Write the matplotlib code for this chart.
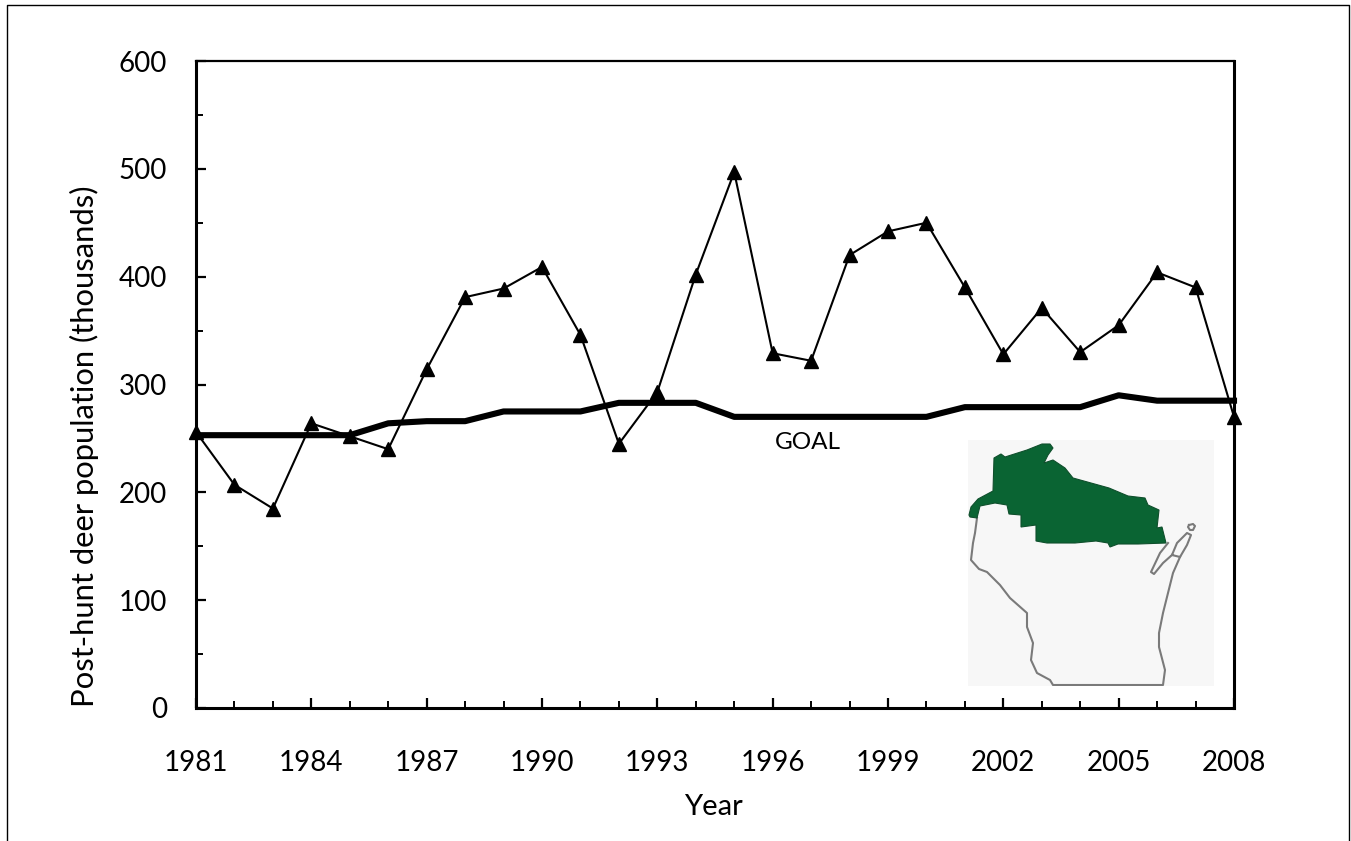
import matplotlib
matplotlib.use('Agg')
import matplotlib.pyplot as plt
from matplotlib.lines import Line2D
from matplotlib.patches import Polygon

plt.rcParams['font.family'] = ['Lato', 'DejaVu Sans']

years = list(range(1981, 2009))
deer = [256, 207, 185, 264, 252, 240, 314, 381, 389, 409, 346, 245, 293, 402,
        497, 329, 322, 420, 442, 450, 390, 328, 371, 330, 355, 404, 390, 270]
goal = [253, 253, 253, 253, 253, 264, 266, 266, 275, 275, 275, 283, 283, 283,
        270, 270, 270, 270, 270, 270, 279, 279, 279, 279, 290, 285, 285, 285]
year_ticks = list(range(1981, 2009, 3))
deer_ticks = [0, 100, 200, 300, 400, 500, 600]

# map shapes, in pixels of a 246 x 246 box, y going down
north_region = [(1, 75), (3, 67), (10, 59), (25, 51), (26, 18), (33, 14), (37, 17),
                (59, 10), (74, 4), (82, 4), (85, 8), (80, 15), (76, 23), (85, 20),
                (97, 28), (105, 38), (141, 48), (160, 56), (177, 58), (180, 65),
                (191, 70), (189, 88), (194, 87), (198, 103), (170, 104), (150, 104),
                (142, 107), (140, 103), (128, 101), (107, 103), (79, 103), (68, 101),
                (68, 85), (53, 87), (53, 75), (41, 74), (39, 65), (27, 63), (12, 66),
                (9, 78), (2, 77)]
state_west = [(9, 78), (7, 93), (5, 103), (3, 120), (11, 129), (19, 132), (32, 145),
              (42, 158), (59, 173), (59, 187), (65, 203), (63, 220), (69, 233),
              (82, 240), (85, 245), (195, 245), (197, 230), (191, 207), (191, 193),
              (195, 173), (200, 153), (205, 133), (212, 117)]
door_bay = [(200, 103), (192, 113), (183, 132), (186, 134), (195, 123), (204, 115),
            (209, 103), (219, 93), (223, 95), (219, 105), (212, 117), (204, 115)]
island = [(221, 85), (225, 84), (227, 86), (225, 90), (222, 90), (220, 87), (221, 85)]

fig = plt.figure(figsize=(13.51, 8.41), dpi=100)
W, H = 1351, 841
ax = fig.add_axes([196 / W, 1 - 708 / H, (1234 - 196) / W, (708 - 61) / H])

ax.plot(years, goal, color='black', lw=4.4, solid_joinstyle='round', zorder=2, clip_on=False)
ax.plot(years, deer, color='black', lw=1.5, marker='^', ms=10, zorder=3, clip_on=False)
ax.text(1996.05, 246, 'GOAL', ha='left', va='center', fontsize=17.5)

ax.set_xlim(1981, 2008)
ax.set_ylim(0, 600)
ax.set_xticks(year_ticks)
ax.set_xticks(years, minor=True)
ax.set_yticks(deer_ticks)
ax.set_yticks(range(50, 600, 100), minor=True)
ax.tick_params(axis='both', which='major', direction='in', length=7.5, width=1.6, labelsize=20)
ax.tick_params(axis='both', which='minor', direction='in', length=5, width=1.4)
ax.tick_params(axis='x', which='major', pad=30)
ax.tick_params(axis='y', which='major', pad=21)
ax.set_xlabel('Year', fontsize=21)
ax.xaxis.set_label_coords(0.498, -0.133)
ax.set_ylabel('Post-hunt deer population (thousands)', fontsize=22.3, labelpad=14, y=0.405)
for side in ['left', 'bottom', 'right']:
    ax.spines[side].set_linewidth(2.2)
ax.spines['top'].set_linewidth(1.6)

# inset map
mp = fig.add_axes([968 / W, 1 - 686 / H, 246 / W, 246 / H])
mp.set_xlim(0, 246)
mp.set_ylim(246, 0)
mp.set_facecolor('#f7f7f7')
mp.set_xticks([])
mp.set_yticks([])
for s in mp.spines.values():
    s.set_visible(False)
mp.add_patch(Polygon(north_region, closed=True, fc='#0a6433', ec='#0f4f2c', lw=0.8, zorder=3))
for shape in [state_west, door_bay, island]:
    mp.plot([p[0] for p in shape], [p[1] for p in shape], color='#7a7a7a', lw=1.5, zorder=2)

# outer frame of the figure, open at the bottom
frame_x = [7 / W, 7 / W, 1349 / W, 1349 / W]
frame_y = [0, 1 - 5 / H, 1 - 5 / H, 0]
fig.add_artist(Line2D(frame_x, frame_y, color='black', lw=1.0))

fig.savefig('out.png', dpi=100)
